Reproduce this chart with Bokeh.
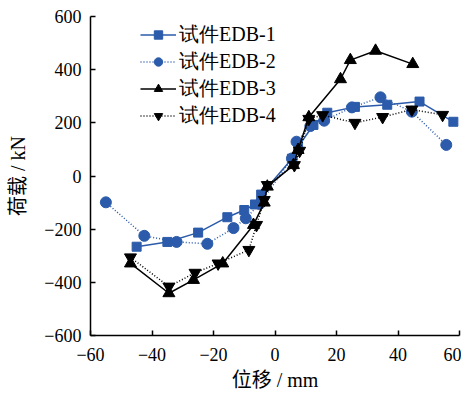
from bokeh.plotting import figure
from bokeh.embed import file_html
from bokeh.resources import INLINE
from bokeh.models import Range1d, CustomJSTickFormatter, FixedTicker, Legend, LegendItem

# ---- data ----
edb1_x = [-45, -35, -25, -15.5, -10, -6.5, -4.5, 5.5, 7.5, 12.5, 17, 26, 36.5, 47, 58]
edb1_y = [-266, -248, -213, -155, -128, -107, -70, 65, 110, 192, 238, 260, 268, 280, 204]

edb2_x = [-55, -42.5, -32, -22, -13.5, -9.5, -5, 5.5, 7, 11.5, 16, 25, 34.3, 44.5, 55.7]
edb2_y = [-99, -225, -248, -255, -196, -159, -105, 66, 129, 188, 208, 258, 296, 242, 117]

edb3_x = [-47, -34.5, -26.5, -17, -7, -3.5, -2.5, 6, 7.5, 11, 21.3, 24.5, 32.7, 44.8]
edb3_y = [-329, -441, -391, -329, -184, -100, -40, 41, 98, 221, 364, 436, 471, 421]

edb4_x = [-47, -34.5, -26, -18.5, -8.5, -6, -3.5, -2.5, 6.3, 8, 11, 15.5, 26, 35, 44.5, 54.5]
edb4_y = [-306, -416, -364, -329, -278, -184, -90, -34, 41, 95, 215, 229, 200, 222, 250, 230]

labels = ["试件EDB-1", "试件EDB-2", "试件EDB-3", "试件EDB-4"]
x_ticks = [-60, -40, -20, 0, 20, 40, 60]
y_ticks = [-600, -400, -200, 0, 200, 400, 600]

BLUE = "#2B5BAA"
FONT = "Liberation Serif, Noto Sans CJK SC"

p = figure(frame_width=369, frame_height=319, output_backend="svg", toolbar_location=None,
           x_range=Range1d(-60, 60), y_range=Range1d(-600, 600),
           min_border_left=90, min_border_top=16, min_border_right=2, min_border_bottom=60)
p.outline_line_color = None
p.xgrid.visible = False
p.ygrid.visible = False
p.background_fill_color = "white"
p.border_fill_color = "white"

fmt = CustomJSTickFormatter(code="return (tick < 0 ? '\u2212' + Math.abs(tick) : '' + tick);")
for ax, ticks in ((p.xaxis[0], x_ticks), (p.yaxis[0], y_ticks)):
    ax.ticker = FixedTicker(ticks=ticks)
    ax.formatter = fmt
    ax.major_tick_in = 5
    ax.major_tick_out = 0
    ax.minor_tick_line_color = None
    ax.axis_line_width = 1.5
    ax.major_tick_line_width = 1.5
    ax.axis_line_color = "black"
    ax.major_tick_line_color = "black"
    ax.major_label_text_font = FONT
    ax.major_label_text_font_size = "18px"
    ax.major_label_text_color = "black"
    ax.axis_label_text_font = FONT
    ax.axis_label_text_font_size = "20px"
    ax.axis_label_text_font_style = "normal"
    ax.axis_label_text_color = "black"

p.xaxis.axis_label = "位移 / mm"
p.yaxis.axis_label = "荷载 / kN"
p.xaxis.major_label_standoff = 12
p.xaxis.axis_label_standoff = 5
p.yaxis.major_label_standoff = 9
p.yaxis.axis_label_standoff = 12

r1l = p.line(edb1_x, edb1_y, line_color=BLUE, line_width=1.5)
r1m = p.scatter(edb1_x, edb1_y, marker="square", size=9, fill_color=BLUE, line_color=BLUE)
r2l = p.line(edb2_x, edb2_y, line_color=BLUE, line_width=1.5, line_dash="1 2")
r2m = p.scatter(edb2_x, edb2_y, marker="circle", size=11, fill_color=BLUE, line_color=BLUE)
r3l = p.line(edb3_x, edb3_y, line_color="black", line_width=1.5)
r3m = p.scatter(edb3_x, edb3_y, marker="triangle", size=12, fill_color="black", line_color="black")
r4l = p.line(edb4_x, edb4_y, line_color="black", line_width=1.5, line_dash="1 2")
r4m = p.scatter(edb4_x, edb4_y, marker="inverted_triangle", size=12, fill_color="black", line_color="black")

legend = Legend(items=[
    LegendItem(label=labels[0], renderers=[r1l, r1m]),
    LegendItem(label=labels[1], renderers=[r2l, r2m]),
    LegendItem(label=labels[2], renderers=[r3l, r3m]),
    LegendItem(label=labels[3], renderers=[r4l, r4m]),
], location=(50, 206))
legend.border_line_color = None
legend.background_fill_alpha = 0
legend.padding = 0
legend.margin = 0
legend.spacing = 0
legend.glyph_width = 36
legend.glyph_height = 21
legend.label_height = 21
legend.label_standoff = 3
legend.label_text_font = "Liberation Serif"
legend.label_text_font_size = "20px"
legend.label_text_line_height = 1.0
legend.label_text_color = "black"
p.add_layout(legend, "center")

open("out.html", "w").write(file_html(p, INLINE))
